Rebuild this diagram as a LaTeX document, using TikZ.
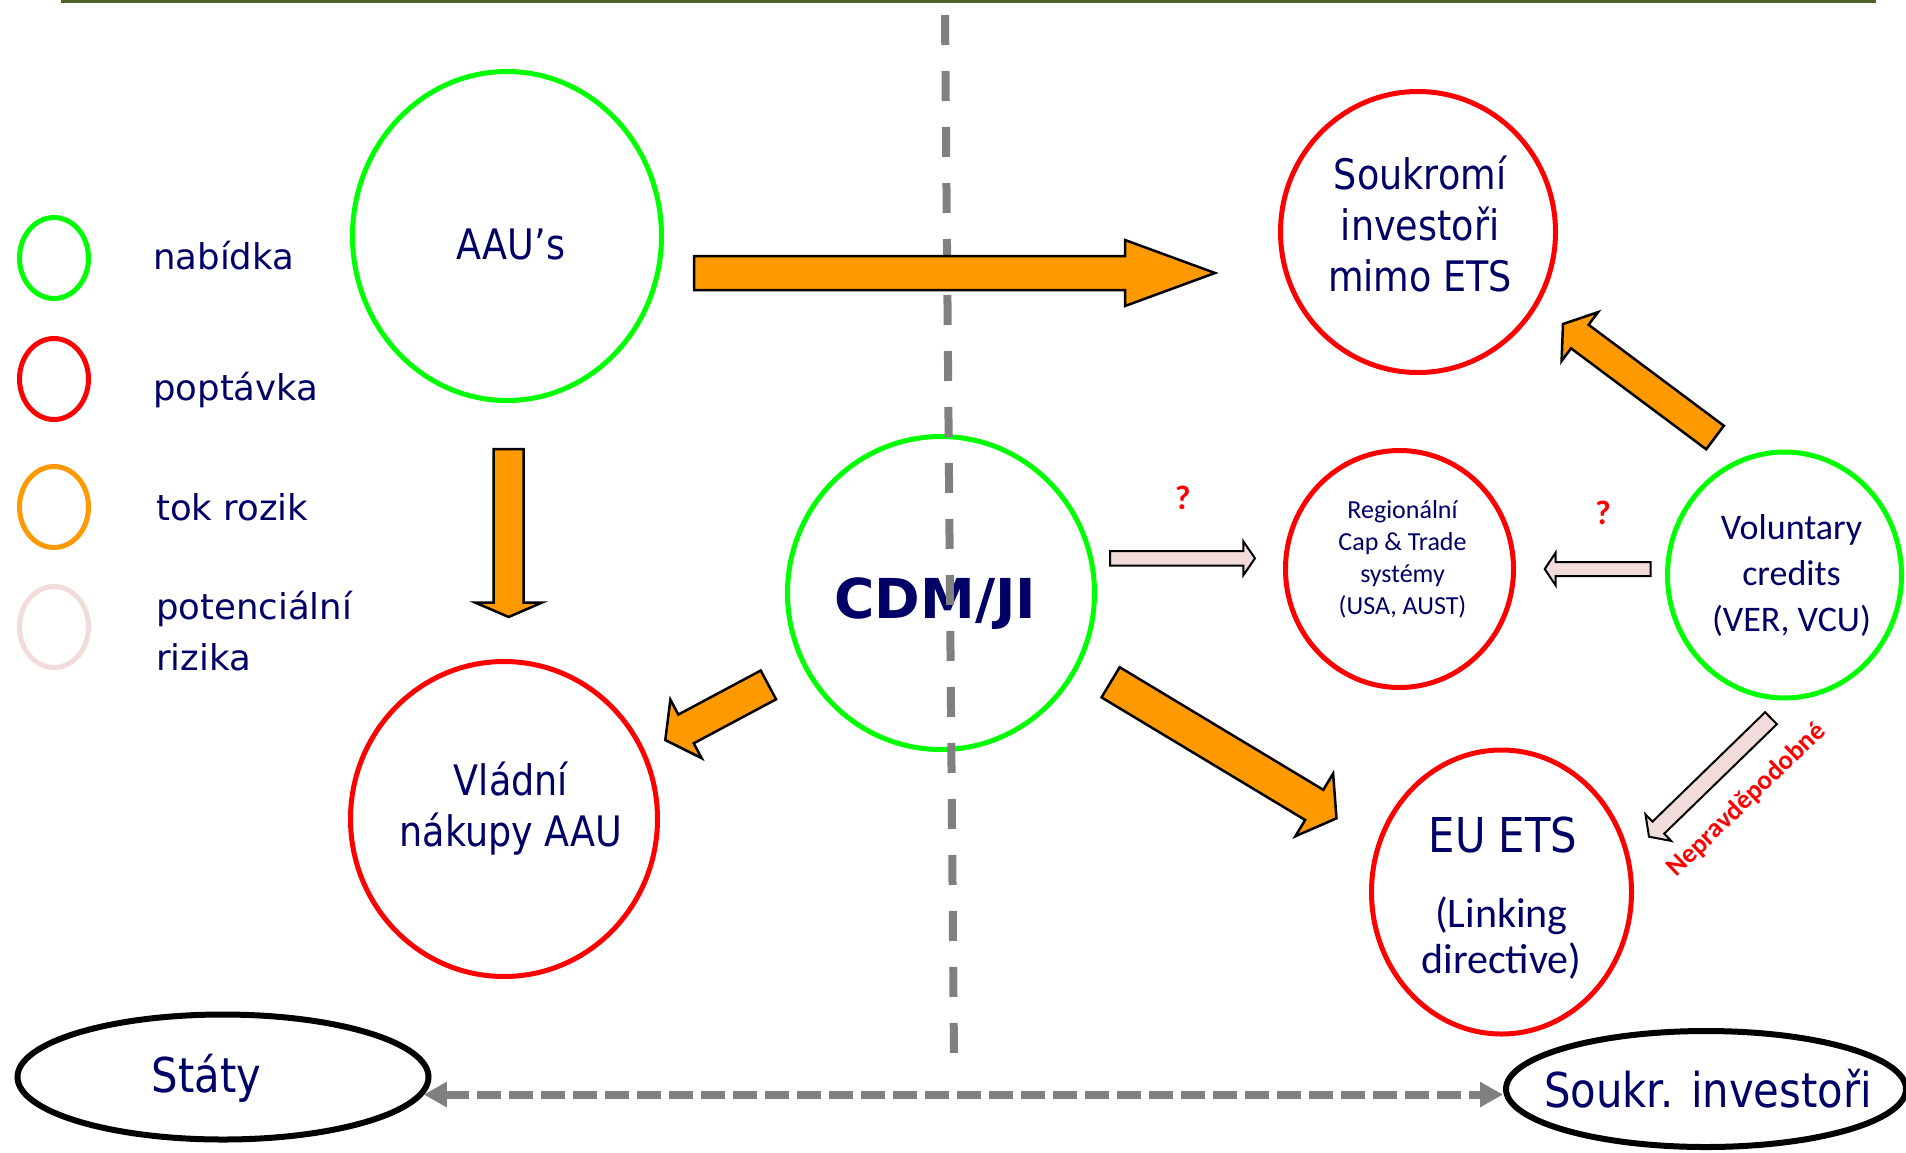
\documentclass[tikz,border=0pt]{standalone}
\usepackage{fontspec}
\setmainfont{DejaVu Sans}
\newfontfamily\tahoma{DejaVu Sans}[FakeStretch=0.87]
\newfontfamily\calibri{Carlito}
\usetikzlibrary{shapes.geometric,arrows.meta,calc}

\definecolor{txtblue}{RGB}{0,0,102}
\definecolor{supgreen}{RGB}{0,255,0}
\definecolor{demred}{RGB}{255,0,0}
\definecolor{floworange}{RGB}{255,153,0}
\definecolor{riskpink}{RGB}{242,220,219}
\definecolor{topolive}{RGB}{79,98,40}

% block arrow: style, from, to, shaft half width, head half width, head length
\newcommand{\blockarrow}[6]{%
  \coordinate (bh) at ($(#3)!#6pt!(#2)$);
  \draw[#1] ($(#2)!#4pt!90:(#3)$) -- ($(bh)!#4pt!-90:(#2)$) -- ($(bh)!#5pt!-90:(#2)$) -- (#3)
     -- ($(bh)!#5pt!90:(#2)$) -- ($(bh)!#4pt!90:(#2)$) -- ($(#2)!#4pt!-90:(#3)$) -- cycle;}

\begin{document}
\begin{tikzpicture}[x=1pt,y=-1pt]
\tikzstyle{ring}=[ellipse, inner sep=0pt, line width=5pt]
\tikzstyle{supply}=[ring, draw=supgreen]
\tikzstyle{demand}=[ring, draw=demred]
\tikzstyle{party}=[ellipse, inner sep=0pt, line width=6pt, draw=black]
\tikzstyle{legtxt}=[text=txtblue, inner sep=0pt, font=\fontsize{35.5}{51}\selectfont]
\tikzstyle{tah}=[text=txtblue, inner sep=0pt, align=center, font=\tahoma\fontsize{42}{51}\selectfont]
\tikzstyle{cal}=[text=txtblue, inner sep=0pt, align=center, font=\calibri\fontsize{26}{32}\selectfont]
\tikzstyle{flow}=[fill=floworange, draw=black, line width=2.5pt]
\tikzstyle{risk}=[fill=riskpink, draw=black, line width=2pt]
\tikzstyle{note}=[text=demred, inner sep=0pt, font=\calibri\bfseries\fontsize{34}{40}\selectfont]

\path[use as bounding box, fill=white] (0,0) rectangle (1906,1152);
\draw[topolive, line width=3pt] (61,1) -- (1876,1);

%% Legend
  \node[ring, draw=supgreen, minimum width=69pt, minimum height=81pt] (lg1) at (54,258) {};
  \node[ring, draw=demred, minimum width=69pt, minimum height=81pt] (lg2) at (54,379) {};
  \node[ring, draw=floworange, minimum width=69pt, minimum height=81pt] (lg3) at (54,507) {};
  \node[ring, draw=riskpink, minimum width=69pt, minimum height=81pt] (lg4) at (54,627) {};
  \node[legtxt, anchor=base west] (lt1) at (153,269) {nabídka};
  \node[legtxt, anchor=base west] (lt2) at (153,400) {poptávka};
  \node[legtxt, anchor=base west] (lt3) at (156,520) {tok rozik};
  \node[legtxt, align=left, anchor=west] (lt4) at (156,631) {potenciální\\rizika};

%% States
  \node[supply, minimum width=309pt, minimum height=329pt,
        label={[tah, xshift=4pt, yshift=-8.5pt]center:AAU’s}] (aau) at (507,236) {};
  \node[demand, minimum width=307pt, minimum height=315pt,
        label={[tah, xshift=7pt, yshift=10pt]center:{Vládní\\nákupy AAU}}] (vlad) at (504,819) {};
  \node[supply, minimum width=307pt, minimum height=313pt,
        label={[tah, font=\bfseries\fontsize{55}{60}\selectfont, xshift=-5.5pt, yshift=-10.5pt]center:CDM/JI}] (cdm) at (941,593) {};

%% Private investors
  \node[demand, minimum width=275pt, minimum height=281pt,
        label={[tah, xshift=2pt, yshift=8pt]center:{Soukromí\\investoři\\mimo ETS}}] (souk) at (1418,232) {};
  \node[demand, minimum width=228pt, minimum height=237pt,
        label={[cal, xshift=3pt, yshift=10pt]center:{Regionální\\Cap \& Trade\\systémy\\(USA, AUST)}}] (reg) at (1399.5,569) {};
  \node[supply, minimum width=234pt, minimum height=246pt,
        label={[cal, font=\calibri\fontsize{36}{46}\selectfont, xshift=7pt]center:{Voluntary\\credits\\(VER, VCU)}}] (vol) at (1784.5,575) {};
  \node[demand, minimum width=260pt, minimum height=284pt,
        label={[tah, font=\tahoma\fontsize{48}{56}\selectfont, xshift=1.5pt, yshift=57pt]center:EU ETS},
        label={[cal, font=\calibri\fontsize{42}{46.5}\selectfont, yshift=-46pt]center:{(Linking\\directive)}}] (euets) at (1501.5,892) {};

%% Parties
  \node[party, minimum width=411pt, minimum height=125pt,
        label={[tah, font=\tahoma\fontsize{48}{56}\selectfont, xshift=-16.5pt, yshift=-1pt]center:Státy}] (staty) at (223,1077) {};
  \node[party, minimum width=400pt, minimum height=116pt,
        label={[tah, font=\tahoma\fontsize{48}{56}\selectfont, xshift=2pt]center:Soukr. investoři}] (soukinv) at (1706,1089) {};

  % dividing line
  \draw[gray, line width=8pt, dash pattern=on 30pt off 26pt] (945,15) -- (954,1057);
  \draw[gray, line width=8pt, dash pattern=on 24pt off 8pt,
        arrows={Triangle[width=24pt,length=23pt]-Triangle[width=24pt,length=23pt]}]
        (staty.-5) -- (staty.-5 -| soukinv.west);

%% Flows of risk
  \coordinate (f1s) at (694,273);      \coordinate (f1e) at (1215,273);
  \coordinate (f2s) at (508.6,449);    \coordinate (f2e) at (508.6,617);
  \coordinate (f3s) at (768.4,684.9);  \coordinate (f3e) at (665.3,740);
  \coordinate (f4s) at (1110.6,682.3); \coordinate (f4e) at (1336.5,818.3);
  \coordinate (f5s) at (1715,437.5);   \coordinate (f5e) at (1563,324);
  \blockarrow{flow}{f1s}{f1e}{17}{33}{90}
  \blockarrow{flow}{f2s}{f2e}{15}{33.5}{14.5}
  \blockarrow{flow}{f3s}{f3e}{16.3}{33.2}{23.5}
  \blockarrow{flow}{f4s}{f4e}{17.6}{36.6}{26}
  \blockarrow{flow}{f5s}{f5e}{14.7}{30.5}{21}

%% Potential risks
  \coordinate (r1s) at (1110,558.3);   \coordinate (r1e) at (1255,558.3);
  \coordinate (r2s) at (1650.6,569);   \coordinate (r2e) at (1544.7,569);
  \coordinate (r3s) at (1771,718.2);   \coordinate (r3e) at (1649,836.7);
  \blockarrow{risk}{r1s}{r1e}{7.3}{17}{11.7}
  \blockarrow{risk}{r2s}{r2e}{7}{16.5}{11}
  \blockarrow{risk}{r3s}{r3e}{8.4}{18.5}{13}

  \node[note] (q1) at (1182.7,498) {?};
  \node[note] (q2) at (1603,513) {?};
  \node[note, font=\calibri\bfseries\fontsize{27}{32}\selectfont, rotate=44] (unlikely) at (1746.5,800) {Nepravděpodobné};
\end{tikzpicture}
\end{document}
